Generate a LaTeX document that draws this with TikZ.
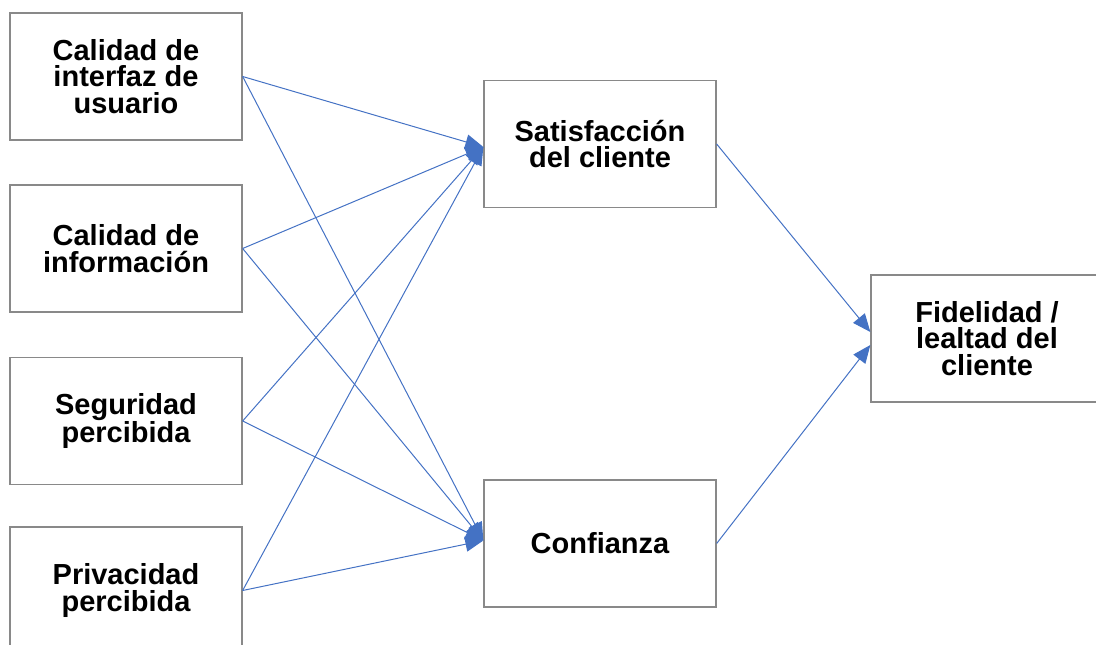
\documentclass[tikz,border=0pt]{standalone}
\usepackage{fontspec}
\setmainfont{Liberation Sans}
\usetikzlibrary{arrows.meta}

\definecolor{boxgray}{RGB}{137,137,137}
\definecolor{linkblue}{RGB}{68,114,196}

\tikzset{
  factor/.style={draw=boxgray, line width=1.3pt, rectangle, fill=white,
    minimum width=232pt, minimum height=127pt, inner sep=0pt, align=center,
    font=\fontsize{29pt}{26.5pt}\selectfont\bfseries},
  link/.style={draw=linkblue, line width=1pt,
    -{Triangle[length=18pt,width=15pt]}}
}

\begin{document}
\begin{tikzpicture}[x=1pt,y=-1pt]
\useasboundingbox (0,0) rectangle (1096,645);
\clip (0,0) rectangle (1096,645);
% left column
\node[factor] (interfaz) at (126,76.5) {Calidad de\\interfaz de\\usuario};
\node[factor] (informacion) at (126,248.5) {Calidad de\\información};
\node[factor] (seguridad) at (126,421) {Seguridad\\percibida};
\node[factor] (privacidad) at (126,590.5) {Privacidad\\percibida};
% middle column
\node[factor] (satisfaccion) at (600,144) {Satisfacción\\del cliente};
\node[factor] (confianza) at (600,543.5) {Confianza};
% right
\node[factor] (fidelidad) at (987,338.5) {Fidelidad /\\lealtad del\\cliente};
% links
\foreach \src in {interfaz,informacion,seguridad,privacidad}{
  \draw[link] (\src.east) -- ([yshift=-3pt]satisfaccion.west);
  \draw[link] (\src.east) -- ([yshift=3pt]confianza.west);
}
\draw[link] (satisfaccion.east) -- ([yshift=6.5pt]fidelidad.west);
\draw[link] (confianza.east) -- ([yshift=-6.5pt]fidelidad.west);
\end{tikzpicture}
\end{document}
